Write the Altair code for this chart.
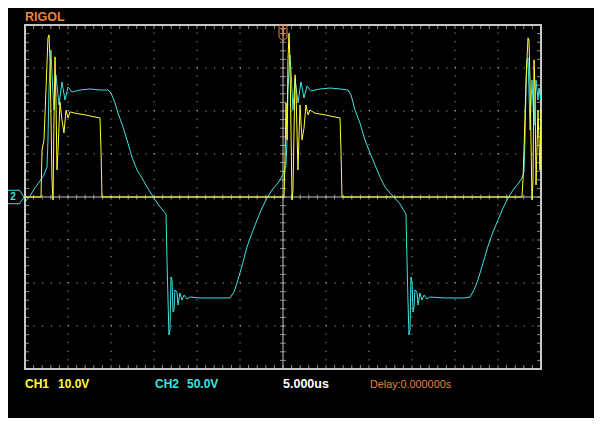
import altair as alt
import pandas as pd

# Scope settings
T_PER_DIV = 5.0        # 5.000us / div, 12 divisions
CH1_V_PER_DIV = 10.0   # CH1 10.0V
CH2_V_PER_DIV = 50.0   # CH2 50.0V

# CH1 (yellow) samples: time in microseconds, voltage in volts
ch1_t = [-30.0, -28.14, -28.02, -27.79, -27.56, -27.33, -27.21, -27.09, -26.86, -26.74,
         -26.63, -26.51, -26.40, -26.28, -26.16, -25.93, -25.70, -25.47, -25.23, -25.0,
         -24.77, -24.19, -23.02, -21.86, -21.28, -21.16, -21.05,
         0.12, 0.23, 0.35, 0.47, 0.58, 0.70, 0.81, 1.05, 1.16, 1.40,
         1.51, 1.74, 1.98, 2.21, 2.44, 2.67, 2.91, 3.14, 3.72, 4.88,
         6.05, 6.63, 6.74, 6.86,
         27.79, 27.91, 28.02, 28.26, 28.49, 28.60, 28.72, 28.95, 29.07, 29.19,
         29.30, 29.42, 29.65, 29.88, 30.0]
ch1_v = [0.0, 0.0, 10.9, 13.3, 24.9, 37.0, 37.7, 31.9, 4.0, -0.7,
         17.9, 32.6, 22.6, 6.3, 10.9, 22.1, 17.9, 14.9, 20.2, 18.4,
         19.8, 19.5, 19.1, 18.6, 18.4, 10.9, 0.0,
         0.0, 8.6, 21.9, 13.3, 31.9, 38.1, 31.9, -0.7, 1.6, 28.4,
         24.9, 6.3, 21.4, 13.3, 16.0, 21.4, 19.1, 20.2, 19.5, 19.1,
         18.6, 18.4, 10.9, 0.0,
         0.0, 4.0, 10.9, 27.2, 37.0, 36.5, 27.2, -0.7, 4.0, 31.9,
         24.9, 2.8, 20.2, 6.3, 20.7]

# CH2 (cyan) samples: time in microseconds, voltage in volts
ch2_t = [-30.0, -29.42, -28.84, -28.26, -27.79, -27.44, -27.33, -27.21, -26.98, -26.86,
         -26.63, -26.40, -26.05, -25.70, -25.35, -25.0, -24.53, -23.60, -22.44, -21.28,
         -20.35, -20.0, -19.53, -19.19, -18.60, -18.14, -17.56, -16.98, -16.40, -15.81,
         -15.23, -14.88, -14.30, -13.60, -13.49, -13.37, -13.26, -13.14, -13.02, -12.91,
         -12.79, -12.67, -12.56, -12.33, -12.21, -11.98, -11.74, -11.51, -11.16, -10.81,
         -9.65, -7.91, -6.16, -5.70, -5.35, -4.77, -4.19, -3.60, -3.02, -2.44,
         -1.86, -1.28, -0.58, -0.23, 0.12, 0.35, 0.47, 0.58, 0.81, 0.93,
         1.16, 1.40, 1.74, 2.09, 2.44, 2.79, 3.26, 4.30, 5.47, 6.63,
         7.56, 7.91, 8.37, 8.95, 9.53, 10.12, 10.70, 11.28, 11.86, 12.44,
         13.02, 13.60, 14.30, 14.42, 14.53, 14.65, 14.77, 14.88, 15.0, 15.12,
         15.23, 15.35, 15.58, 15.70, 15.93, 16.16, 16.40, 16.74, 17.09, 18.84,
         21.16, 21.74, 22.21, 22.67, 23.26, 23.84, 24.42, 25.0, 25.58, 26.16,
         26.74, 27.33, 27.79, 28.02, 28.14, 28.26, 28.37, 28.49, 28.60, 28.72,
         28.95, 29.19, 29.42, 29.65, 29.77, 30.0]
ch2_v = [-5.8, 1.2, 10.5, 18.6, 25.6, 34.9, 66.3, 124.4, 170.9, 141.9,
         101.2, 141.9, 107.0, 133.7, 112.8, 127.9, 122.1, 124.4, 125.6, 124.4,
         124.4, 120.9, 109.3, 97.7, 81.4, 66.3, 46.5, 31.4, 22.1, 11.6,
         2.3, -3.5, -11.6, -19.8, -73.3, -119.8, -160.5, -154.7, -93.0, -96.5,
         -133.7, -131.4, -108.1, -110.5, -125.6, -111.6, -119.8, -114.0, -118.6, -116.3,
         -117.4, -117.4, -117.4, -110.5, -100.0, -80.2, -58.1, -41.9, -26.7, -12.8,
         -1.2, 8.1, 16.3, 22.1, 29.1, 37.2, 66.3, 124.4, 165.1, 147.7,
         101.2, 138.4, 109.3, 133.7, 115.1, 129.1, 123.3, 125.6, 126.7, 125.6,
         124.4, 118.6, 101.2, 86.0, 66.3, 51.2, 37.2, 23.3, 11.6, 4.7,
         -1.2, -8.1, -19.8, -73.3, -119.8, -160.5, -154.7, -93.0, -98.8, -133.7,
         -128.0, -108.1, -110.5, -125.6, -111.6, -119.8, -114.0, -118.6, -116.3, -117.4,
         -117.4, -116.3, -108.1, -96.5, -76.7, -57.0, -40.7, -26.7, -12.8, -1.2,
         8.1, 15.1, 22.1, 29.1, 66.3, 124.4, 159.3, 161.6, 124.4, 77.9,
         136.0, 83.7, 136.0, 112.8, 126.7, 112.8]

# Screen captions
caption_ch1 = ["CH1", "10.0V"]
caption_ch2 = ["CH2", "50.0V"]
caption_time = "5.000us"
caption_delay = "Delay:0.000000s"
brand = "RIGOL"

# Graticule: 12 x 8 divisions, minor marks every 1/5 division
X_MIN, X_MAX = -6 * T_PER_DIV, 6 * T_PER_DIV
Y_MIN, Y_MAX = -4, 4
grid_t = [k * T_PER_DIV for k in (-5, -4, -3, -2, -1, 1, 2, 3, 4, 5)]
grid_div = [-3, -2, -1, 1, 2, 3]
minor_t = [k * T_PER_DIV / 5 for k in range(-29, 30)]
minor_div = [round(k * 0.2, 1) for k in range(-19, 20)]

W, H = 516, 344
xs = alt.Scale(domain=[X_MIN, X_MAX], nice=False, zero=False)
ys = alt.Scale(domain=[Y_MIN, Y_MAX], nice=False, zero=False)

GRID = "#c4c4c4"
FRAME = "#c8c8c8"
YELLOW = "#ffff33"
CYAN = "#3fe0e0"
ORANGE = "#e8843c"
FONT = "Liberation Sans, Arial, sans-serif"

ch1 = pd.DataFrame({"t": ch1_t, "v": ch1_v})
ch1["div"] = ch1["v"] / CH1_V_PER_DIV
ch1["i"] = range(len(ch1))
ch2 = pd.DataFrame({"t": ch2_t, "v": ch2_v})
ch2["div"] = ch2["v"] / CH2_V_PER_DIV
ch2["i"] = range(len(ch2))

X = lambda f: alt.X(f, scale=xs, axis=None)
Y = lambda f: alt.Y(f, scale=ys, axis=None)

grid_h = alt.Chart(pd.DataFrame({"y": grid_div, "x0": X_MIN, "x1": X_MAX})).mark_rule(
    color=GRID, strokeWidth=1, strokeDash=[1, 7.6]
).encode(x=X("x0:Q"), x2="x1:Q", y=Y("y:Q"))

grid_v = alt.Chart(pd.DataFrame({"t": grid_t, "y0": Y_MIN, "y1": Y_MAX})).mark_rule(
    color=GRID, strokeWidth=1, strokeDash=[1, 7.6]
).encode(x=X("t:Q"), y=Y("y0:Q"), y2="y1:Q")

axis_h = alt.Chart(pd.DataFrame({"y": [0], "x0": [X_MIN], "x1": [X_MAX]})).mark_rule(
    color=GRID, strokeWidth=1
).encode(x=X("x0:Q"), x2="x1:Q", y=Y("y:Q"))
axis_v = alt.Chart(pd.DataFrame({"t": [0], "y0": [Y_MIN], "y1": [Y_MAX]})).mark_rule(
    color=GRID, strokeWidth=1
).encode(x=X("t:Q"), y=Y("y0:Q"), y2="y1:Q")

ticks_t = pd.DataFrame({"t": minor_t})
ticks_d = pd.DataFrame({"d": minor_div})

center_ticks_h = alt.Chart(ticks_t).mark_tick(orient="vertical", size=5, thickness=1, color=GRID).encode(
    x=X("t:Q"), y=alt.YDatum(0, scale=ys, axis=None))
center_ticks_v = alt.Chart(ticks_d).mark_tick(orient="horizontal", size=6, thickness=1, color=GRID).encode(
    x=alt.XDatum(0, scale=xs, axis=None), y=Y("d:Q"))

frame_top = alt.Chart(ticks_t).mark_tick(orient="vertical", size=4, thickness=1, color=FRAME, yOffset=2).encode(
    x=X("t:Q"), y=alt.YDatum(Y_MAX, scale=ys, axis=None))
frame_bottom = alt.Chart(ticks_t).mark_tick(orient="vertical", size=4, thickness=1, color=FRAME, yOffset=-2).encode(
    x=X("t:Q"), y=alt.YDatum(Y_MIN, scale=ys, axis=None))
frame_left = alt.Chart(ticks_d).mark_tick(orient="horizontal", size=4, thickness=1, color=FRAME, xOffset=2).encode(
    x=alt.XDatum(X_MIN, scale=xs, axis=None), y=Y("d:Q"))
frame_right = alt.Chart(ticks_d).mark_tick(orient="horizontal", size=4, thickness=1, color=FRAME, xOffset=-2).encode(
    x=alt.XDatum(X_MAX, scale=xs, axis=None), y=Y("d:Q"))

trace2 = alt.Chart(ch2).mark_line(color=CYAN, strokeWidth=1, clip=True).encode(
    x=X("t:Q"), y=Y("div:Q"), order="i:Q")
trace1 = alt.Chart(ch1).mark_line(color=YELLOW, strokeWidth=1, clip=True).encode(
    x=X("t:Q"), y=Y("div:Q"), order="i:Q")

one = pd.DataFrame({"a": [0]})

# Trigger position marker (top centre) and channel ground marker (left)
trig_shape = alt.Chart(one).mark_point(
    shape="M-0.5,-1 L0.5,-1 L0.5,0.55 L0,1 L-0.5,0.55 Z", size=256, filled=False,
    color=ORANGE, strokeWidth=1, opacity=1
).encode(x=alt.XDatum(0, scale=xs, axis=None), y=alt.value(8))
trig_text = alt.Chart(one).mark_text(text="T", font=FONT, fontSize=10, fontWeight="bold", color=ORANGE,
                                     align="center", baseline="middle").encode(
    x=alt.XDatum(0, scale=xs, axis=None), y=alt.value(8))
gnd_shape = alt.Chart(one).mark_point(
    shape="M-1,-0.75 L0.5,-0.75 L1,0 L0.5,0.75 L-1,0.75 Z", size=324, filled=False,
    color=CYAN, strokeWidth=1, opacity=1
).encode(x=alt.value(-10), y=alt.YDatum(0, scale=ys, axis=None))
gnd_text = alt.Chart(one).mark_text(text="2", font=FONT, fontSize=10, fontWeight="bold", color=CYAN,
                                    align="center", baseline="middle").encode(
    x=alt.value(-12), y=alt.YDatum(0, scale=ys, axis=None))


def label(txt, x, color, weight="bold", size=12, y=363):
    return alt.Chart(one).mark_text(text=txt, font=FONT, fontSize=size, fontWeight=weight, color=color,
                                    align="left", baseline="alphabetic").encode(
        x=alt.value(x), y=alt.value(y))


labels = [
    label(brand, 0, ORANGE, size=12.5, y=-4),
    label(caption_ch1[0], 0, YELLOW),
    label(caption_ch1[1], 33, YELLOW),
    label(caption_ch2[0], 130, CYAN),
    label(caption_ch2[1], 162, CYAN),
    label(caption_time, 258, "#ffffff", size=12.5),
    label(caption_delay, 345, ORANGE, weight="normal", size=10.8),
]

chart = alt.layer(
    grid_h, grid_v, axis_h, axis_v, center_ticks_h, center_ticks_v,
    frame_top, frame_bottom, frame_left, frame_right,
    trace2, trace1, trig_shape, trig_text, gnd_shape, gnd_text, *labels
).properties(
    width=W, height=H,
    padding={"left": 17, "top": 17, "right": 53, "bottom": 49},
    autosize=alt.AutoSizeParams(type="none"),
    background="black",
).configure_view(stroke=FRAME, strokeWidth=2)

chart.save("out.html", embed_options={"renderer": "svg", "actions": False})
